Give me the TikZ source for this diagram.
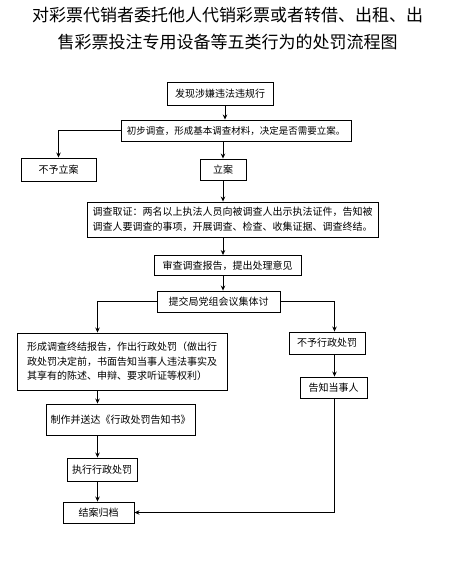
\documentclass[tikz,border=0pt]{standalone}
\usepackage{fontspec}
\setmainfont{Noto Sans CJK SC}
\usetikzlibrary{arrows.meta}
\begin{document}
\begin{tikzpicture}[x=1pt,y=-1pt,
  boxnode/.style={draw=black,line width=0.9pt,inner sep=2pt,font=\fontsize{10}{14.5}\selectfont},
  arr/.style={-{Stealth[length=5pt,width=4.5pt]},line width=0.9pt},
  ln/.style={line width=0.9pt},
  titlefont/.style={font=\fontsize{17}{17}\selectfont}]
\useasboundingbox (0,0) rectangle (470,572);
% title
\node[titlefont] (t1) at (227.5,15) {对彩票代销者委托他人代销彩票或者转借、出租、出};
\node[titlefont] (t2) at (227.5,42) {售彩票投注专用设备等五类行为的处罚流程图};
% helper x positions
\coordinate (xa) at (225,0);
\coordinate (xb) at (223,0);
\coordinate (xl) at (97.5,0);
\coordinate (xr) at (334.5,0);
% boxes
\node[boxnode,minimum width=106pt,minimum height=23pt] (b1) at (220,93.5) {发现涉嫌违法违规行};
\node[boxnode,minimum width=230pt,minimum height=21pt,font=\fontsize{9.5}{12}\selectfont] (b2) at (236,130.5) {初步调查，形成基本调查材料，决定是否需要立案。};
\node[boxnode,minimum width=75pt,minimum height=23pt] (b3) at (58.5,169.5) {不予立案};
\node[boxnode,minimum width=46pt,minimum height=21pt] (b4) at (223,169.5) {立案};
\node[boxnode,minimum width=291pt,minimum height=35pt,align=left] (b5) at (232.5,219.5) {调查取证：两名以上执法人员向被调查人出示执法证件，告知被\\调查人要调查的事项，开展调查、检查、收集证据、调查终结。};
\node[boxnode,minimum width=147pt,minimum height=20pt] (b6) at (227.5,265.5) {审查调查报告，提出处理意见};
\node[boxnode,minimum width=123pt,minimum height=21pt] (b7) at (218.5,301.5) {提交局党组会议集体讨};
\node[boxnode,minimum width=210pt,minimum height=57pt,align=left] (b8) at (122,361.5) {形成调查终结报告，作出行政处罚（做出行\\政处罚决定前，书面告知当事人违法事实及\\其享有的陈述、申辩、要求听证等权利）};
\node[boxnode,minimum width=76pt,minimum height=22pt] (b9) at (327,343) {不予行政处罚};
\node[boxnode,minimum width=67pt,minimum height=21pt] (b10) at (333.5,387.5) {告知当事人};
\node[boxnode,minimum width=149pt,minimum height=31pt] (b11) at (120.5,419.5) {制作并送达《行政处罚告知书》};
\node[boxnode,minimum width=70pt,minimum height=23pt] (b12) at (102,469.5) {执行行政处罚};
\node[boxnode,minimum width=71pt,minimum height=21pt] (b13) at (98.5,512.5) {结案归档};
% connectors
\draw[arr] (b1.south -| xa) -- (b2.north -| xa);
\draw[arr] (b2.west) -| (b3.north);
\draw[arr] (b2.south -| b4.north) -- (b4.north);
\draw[arr] (b4.south) -- (b4.south |- b5.north);
\draw[arr] (b5.south -| xb) -- (b6.north -| xb);
\draw[arr] (b6.south -| xb) -- (b7.north -| xb);
\draw[arr] (b7.west) -| (b8.north -| xl);
\draw[arr] (b7.east) -| (b9.north -| xr);
\draw[arr] (b9.south -| xr) -- (b10.north -| xr);
\draw[arr] (b8.south -| xl) -- (b11.north -| xl);
\draw[arr] (b11.south -| xl) -- (b12.north -| xl);
\draw[arr] (b12.south -| xl) -- (b13.north -| xl);
\draw[arr] (b10.south -| xr) |- (b13.east);
\end{tikzpicture}
\end{document}
